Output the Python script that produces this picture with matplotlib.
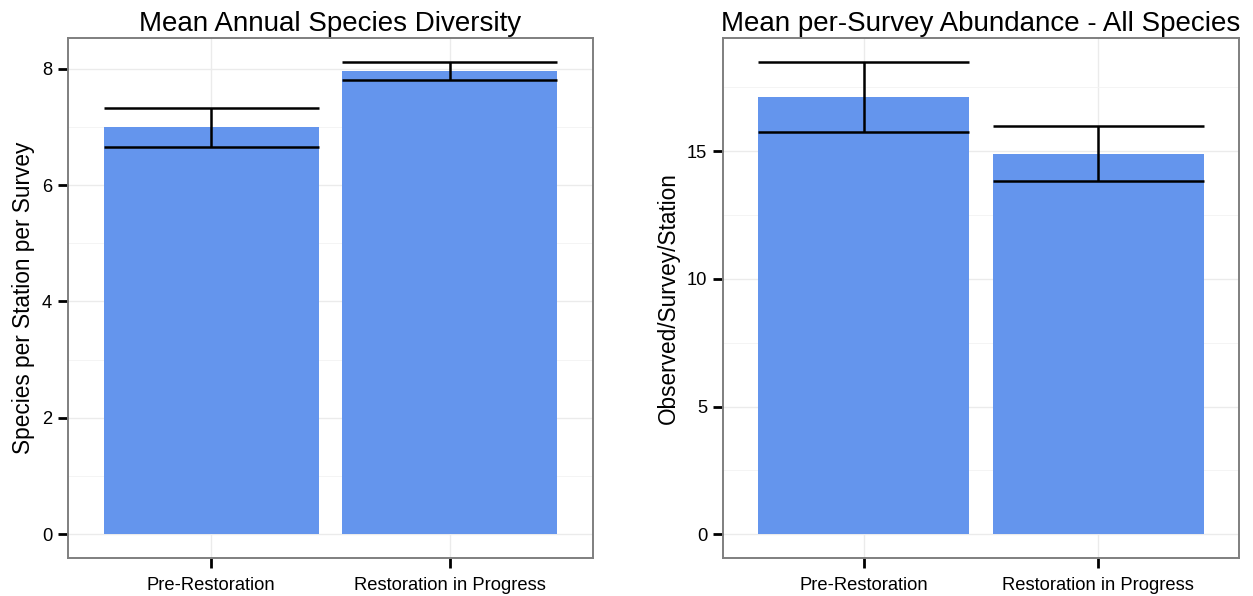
import matplotlib
matplotlib.use("Agg")
from matplotlib import pyplot as plt
from matplotlib.ticker import MultipleLocator
import numpy as np

plt.rcParams['font.family'] = ['Liberation Sans', 'DejaVu Sans']

# donnees
categories = ["Pre-Restoration", "Restoration in Progress"]

diversite = [6.99, 7.96]
diversite_bas = [6.65, 7.80]
diversite_haut = [7.33, 8.12]

abondance = [17.13, 14.90]
abondance_bas = [15.75, 13.83]
abondance_haut = [18.50, 15.97]

titres = ["Mean Annual Species Diversity", "Mean per-Survey Abundance - All Species"]
ylabels = ["Species per Station per Survey", "Observed/Survey/Station"]
pas_ticks = [2, 5]

couleur_barre = "#6495ED"
largeur = 0.9

W, H = 1253, 596
fig = plt.figure(figsize=(W / 100, H / 100), dpi=100)

# positions en pixels (gauche, bas, largeur, hauteur)
positions = [(68, 38, 525, 520), (723, 38, 516, 520)]
series = [(diversite, diversite_bas, diversite_haut),
          (abondance, abondance_bas, abondance_haut)]


def trace_panneau(ax, valeurs, bas, haut, titre, ylabel, pas):
    x = np.arange(1, len(categories) + 1)
    ax.bar(x, valeurs, width=largeur, color=couleur_barre, zorder=2)
    ax.vlines(x, bas, haut, color="black", linewidth=1.8, zorder=3)
    ax.hlines(bas, x - largeur / 2, x + largeur / 2, color="black", linewidth=1.8, zorder=3)
    ax.hlines(haut, x - largeur / 2, x + largeur / 2, color="black", linewidth=1.8, zorder=3)

    ymax = max(haut)
    ax.set_ylim(-0.05 * ymax, ymax * 1.05)
    ax.set_xlim(0.4, len(categories) + 0.6)
    ax.set_xticks(x)
    ax.set_xticklabels(categories, fontsize=13.2)
    ax.yaxis.set_major_locator(MultipleLocator(pas))
    ax.yaxis.set_minor_locator(MultipleLocator(pas / 2))
    ax.tick_params(axis="y", labelsize=13.2)

    ax.grid(True, which="major", color="#ebebeb", linewidth=1.0, zorder=0)
    ax.grid(True, which="minor", axis="y", color="#f3f3f3", linewidth=0.6, zorder=0)
    ax.set_axisbelow(True)
    ax.tick_params(which="minor", length=0)
    ax.tick_params(which="major", length=7.5, width=2, color="black", direction="out", pad=4)
    ax.tick_params(axis="x", pad=6.5)

    for s in ax.spines.values():
        s.set_color("#7f7f7f")
        s.set_linewidth(1.4)

    ax.set_title(titre, fontsize=20, pad=5)
    ax.set_ylabel(ylabel, fontsize=16.3, labelpad=5)


for pos, (v, b, h), titre, yl, pas in zip(positions, series, titres, ylabels, pas_ticks):
    x0, y0, w, hh = pos
    ax = fig.add_axes([x0 / W, y0 / H, w / W, hh / H])
    trace_panneau(ax, v, b, h, titre, yl, pas)

fig.savefig("out.png", dpi=100)
